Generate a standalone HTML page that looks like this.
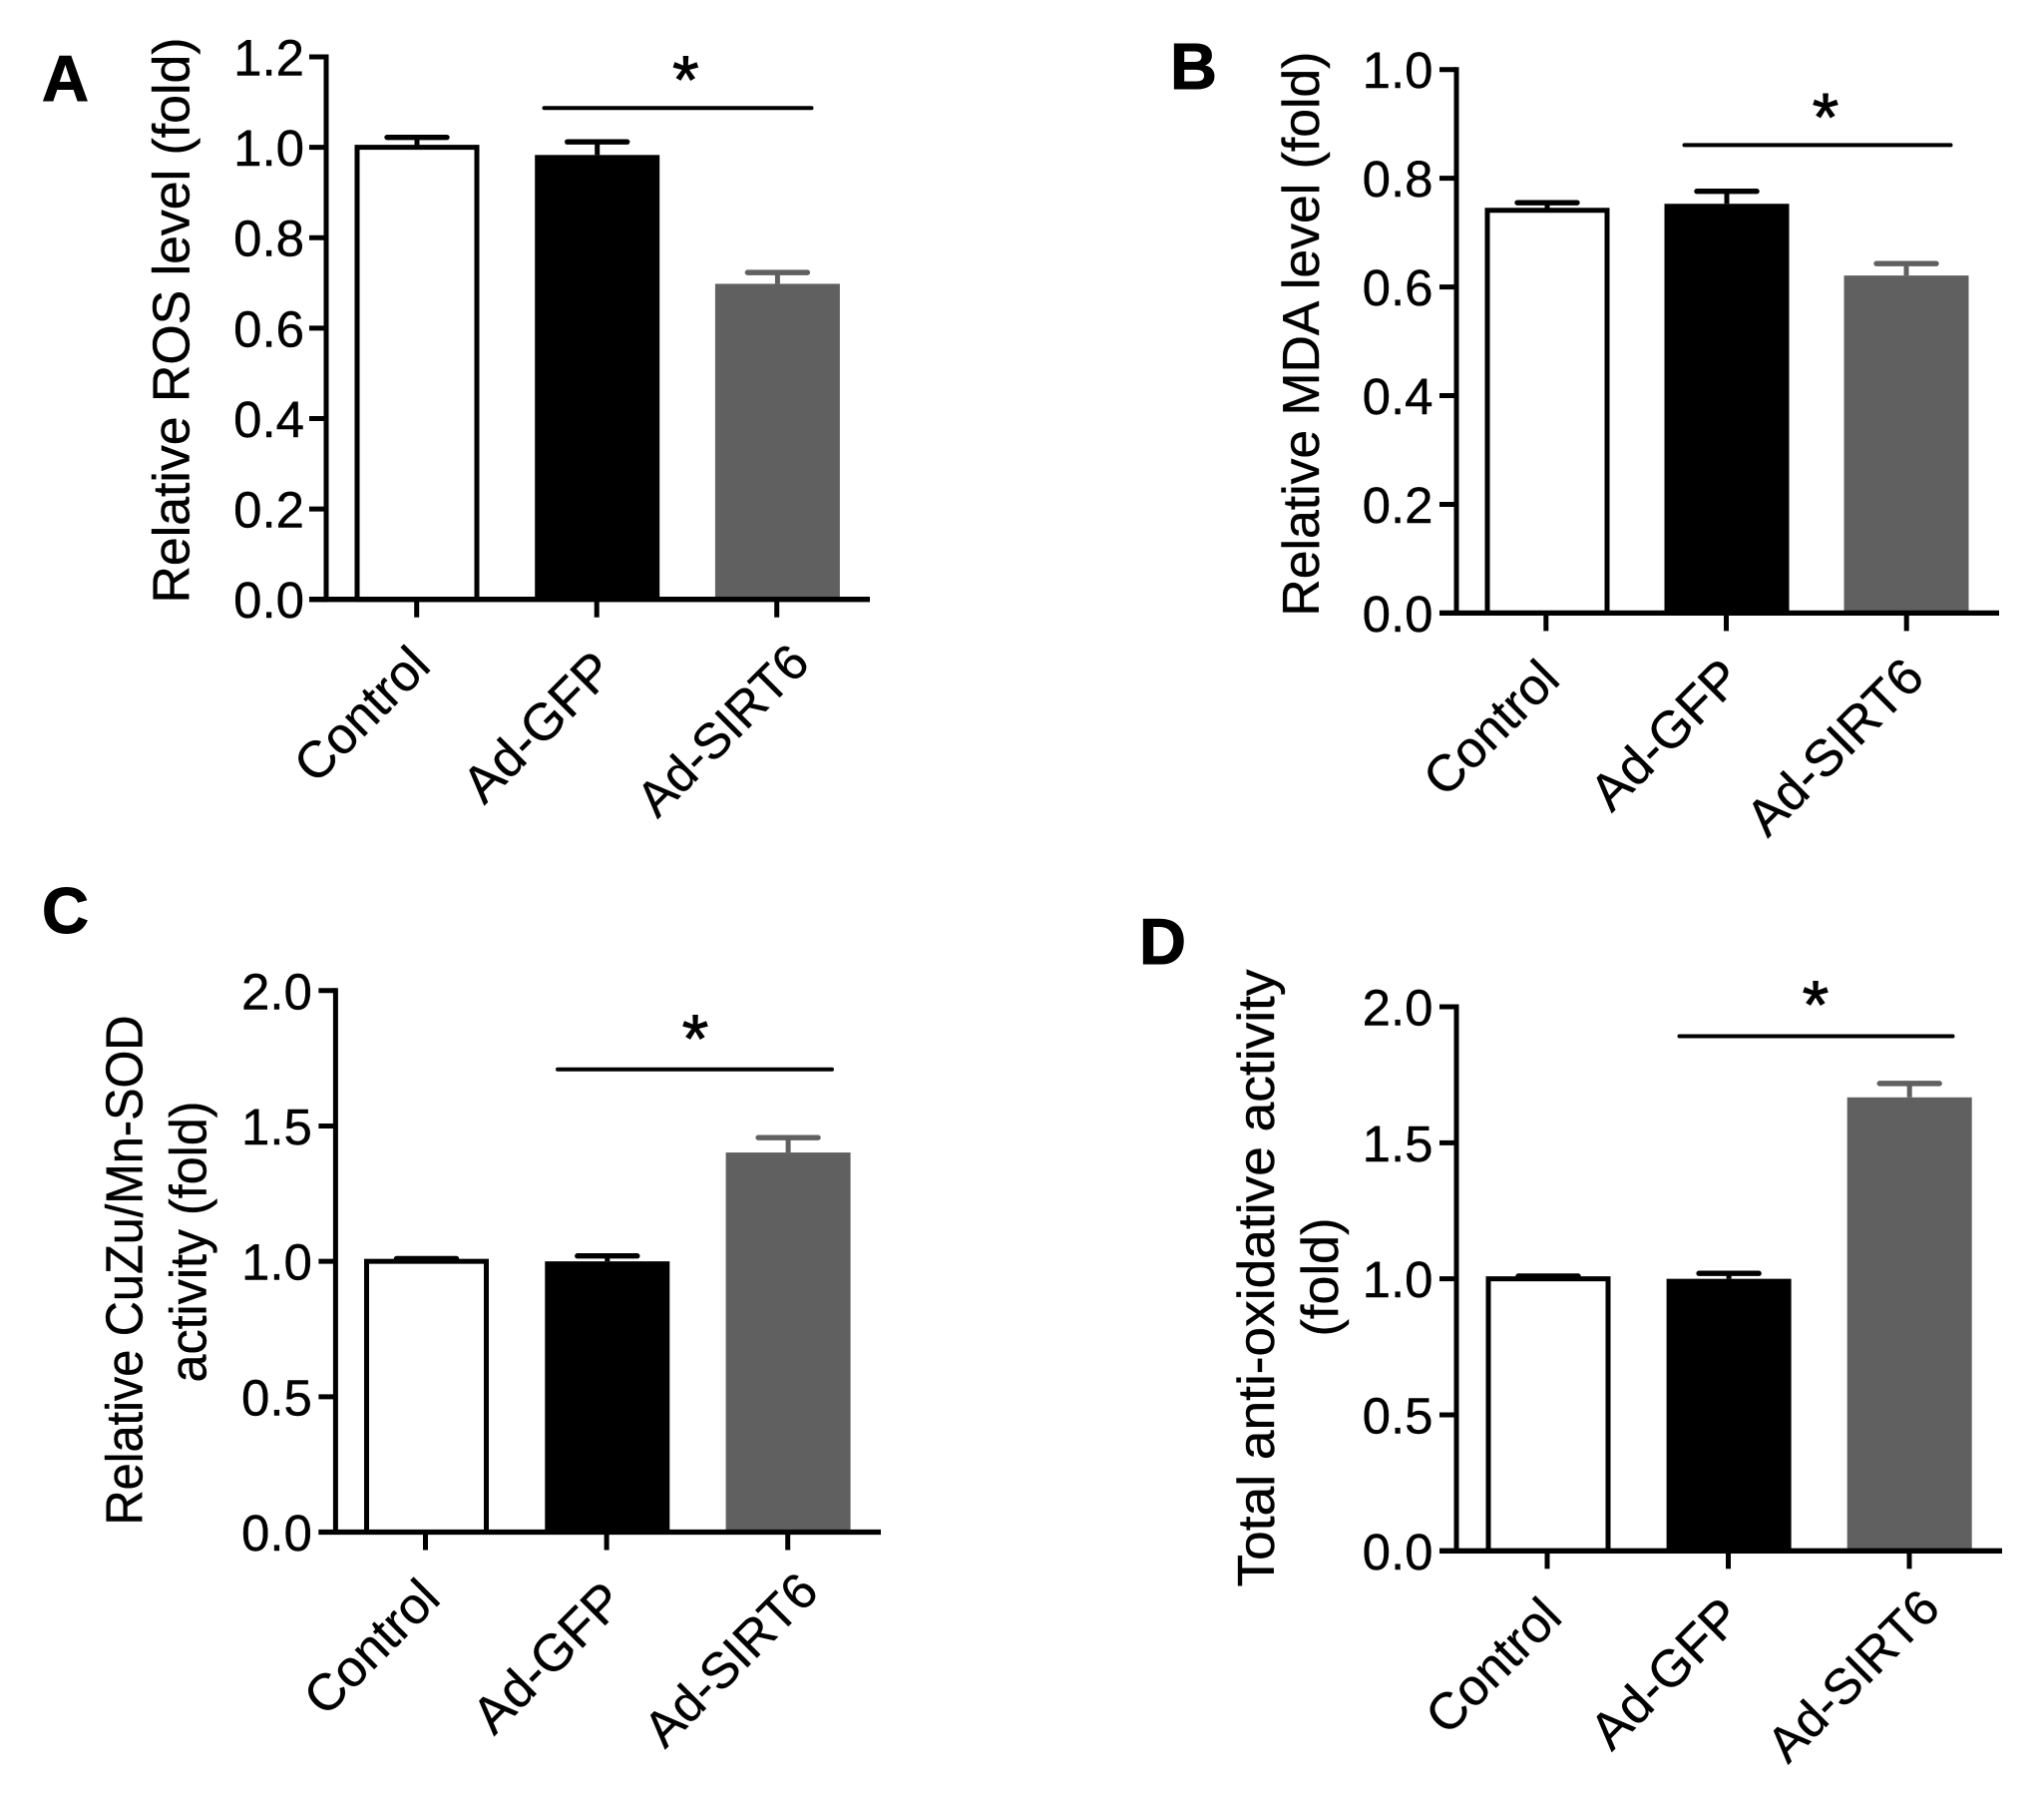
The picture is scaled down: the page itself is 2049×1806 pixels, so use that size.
<!DOCTYPE html>
<html lang="en">
<head>
<meta charset="utf-8">
<title>Relative oxidative stress and antioxidant activity by treatment</title>
<style>
html,body{margin:0;padding:0;background:#fff;width:2049px;height:1806px;overflow:hidden}
svg{display:block;font-family:"Liberation Sans",Arial,sans-serif}
</style>
</head>
<body>
<svg id="figure" width="2049" height="1806" viewBox="0 0 2049 1806" xmlns="http://www.w3.org/2000/svg"></svg>
<script>
const categories = ['Control', 'Ad-GFP', 'Ad-SIRT6'];

const panelAValues = [1.0, 0.983, 0.698];
const panelAUpper = [1.022, 1.012, 0.723];
const panelATicks = ['0.0', '0.2', '0.4', '0.6', '0.8', '1.0', '1.2'];

const panelBValues = [0.741, 0.753, 0.621];
const panelBUpper = [0.755, 0.776, 0.643];
const panelBTicks = ['0.0', '0.2', '0.4', '0.6', '0.8', '1.0'];

const panelCValues = [1.0, 1.0, 1.402];
const panelCUpper = [1.01, 1.02, 1.457];
const panelCTicks = ['0.0', '0.5', '1.0', '1.5', '2.0'];

const panelDValues = [1.0, 1.0, 1.667];
const panelDUpper = [1.01, 1.02, 1.718];
const panelDTicks = ['0.0', '0.5', '1.0', '1.5', '2.0'];

const NS = 'http://www.w3.org/2000/svg';
const figure = document.getElementById('figure');
const barFills = ['#ffffff', '#000000', '#606060'];
const barInks = ['#000000', '#000000', '#606060'];

function make(parent, tag, props, content) {
  const node = document.createElementNS(NS, tag);
  for (const key in props) node.setAttribute(key, props[key]);
  if (content !== undefined) node.textContent = content;
  parent.appendChild(node);
  return node;
}

function drawPanel(p) {
  const domainMax = parseFloat(p.ticks[p.ticks.length - 1]);
  const yScale = v => p.y0 - (v / domainMax) * (p.y0 - p.yTop);
  const xScale = i => p.xFirst + i * p.xStep;
  const key = p.id;

  const g = make(figure, 'g', {});
  
  

  const letter = make(g, 'text', {x: p.letterX, y: p.letterY, 'font-size': 65, 'font-weight': 700, fill: '#000', stroke: '#000', 'stroke-width': 1}, p.letter);
  
  

  p.titles.forEach((t, i) => {
    const title = make(g, 'text', {
      transform: 'translate(' + t.x + ',' + t.y + ') rotate(-90)',
      'text-anchor': 'middle', 'font-size': 52, fill: '#000', stroke: '#000', 'stroke-width': 0.4,
      textLength: t.length, lengthAdjust: 'spacingAndGlyphs'
    }, t.text);
    
    
  });

  categories.forEach((name, i) => {
    const w = p.barWidth;
    const left = p.barLeft + i * p.barStep;
    const top = yScale(p.values[i]);
    const upper = yScale(p.upper[i]);
    const mid = left + w / 2;

    const stem = make(g, 'line', {x1: mid, x2: mid, y1: upper, y2: top, stroke: barInks[i], 'stroke-width': 5});
    
    

    const cap = make(g, 'line', {x1: mid - 30, x2: mid + 30, y1: upper, y2: upper, stroke: barInks[i], 'stroke-width': 5.4, 'stroke-linecap': 'round'});
    
    

    const inset = i === 0 ? 2.5 : 0;
    const bar = make(g, 'rect', {
      x: left + inset, y: top, width: w - inset * 2, height: p.y0 - top,
      fill: barFills[i], stroke: i === 0 ? '#000' : 'none', 'stroke-width': i === 0 ? 5 : 0
    });
    
    
  });

  p.ticks.forEach(label => {
    const y = yScale(parseFloat(label));
    const tick = make(g, 'line', {x1: p.yAxisX - 17, x2: p.yAxisX, y1: y, y2: y, stroke: '#000', 'stroke-width': 5});
    
    

    const text = make(g, 'text', {x: p.yAxisX - p.tickGap, y: y + 18.5, 'text-anchor': 'end', 'font-size': 51, fill: '#000', stroke: '#000', 'stroke-width': 0.4}, label);
    
    
  });

  const yAxis = make(g, 'line', {x1: p.yAxisX, x2: p.yAxisX, y1: p.yTop - 2.5, y2: p.y0 + 2.5, stroke: '#000', 'stroke-width': 5});
  
  

  const xAxis = make(g, 'line', {x1: p.yAxisX - 17, x2: p.xAxisEnd, y1: p.y0, y2: p.y0, stroke: '#000', 'stroke-width': 5.3});
  
  

  categories.forEach((name, i) => {
    const x = xScale(i);
    const tick = make(g, 'line', {x1: x, x2: x, y1: p.y0, y2: p.y0 + 18, stroke: '#000', 'stroke-width': 5});
    
    

    const nudge = p.labelNudge[i];
    const label = make(g, 'text', {
      transform: 'translate(' + (x + nudge[0]) + ',' + (p.y0 + nudge[1]) + ') rotate(-45)',
      'text-anchor': 'end', 'font-size': nudge[2], fill: '#000', stroke: '#000', 'stroke-width': 0.4
    }, name);
    
    
  });

  const sig = make(g, 'line', {x1: p.sigLeft, x2: p.sigRight, y1: p.sigY, y2: p.sigY, stroke: '#000', 'stroke-width': 4, 'stroke-linecap': 'round'});
  
  

  const star = make(g, 'text', {x: p.starX, y: p.starY + p.starLift, 'text-anchor': 'middle', 'font-size': 68, fill: '#000', stroke: '#000', 'stroke-width': 1}, '*');
  
  
}

drawPanel({
  id: 'a', letter: 'A', letterX: 42, letterY: 101,
  values: panelAValues, upper: panelAUpper, ticks: panelATicks,
  yAxisX: 327, yTop: 57, y0: 600.7, xAxisEnd: 872, tickGap: 22,
  xFirst: 417.7, xStep: 180.5,
  barLeft: 355.5, barStep: 180.7, barWidth: 125,
  sigLeft: 545.5, sigRight: 813.5, sigY: 108.3, starX: 687.4, starY: 71, starLift: 32,
  labelNudge: [[16, 69, 51.5], [20, 74, 52], [35, 66, 50]],
  titles: [{text: 'Relative ROS level (fold)', x: 189.5, y: 321, length: 567}]
});

drawPanel({
  id: 'b', letter: 'B', letterX: 1173, letterY: 89,
  values: panelBValues, upper: panelBUpper, ticks: panelBTicks,
  yAxisX: 1460, yTop: 69.7, y0: 614.4, xAxisEnd: 2004, tickGap: 23.5,
  xFirst: 1549.8, xStep: 180.7,
  barLeft: 1488.5, barStep: 180, barWidth: 125,
  sigLeft: 1688.5, sigRight: 1955.5, sigY: 145.4, starX: 1830, starY: 108.6, starLift: 32,
  labelNudge: [[16, 69, 51.5], [18, 68, 52], [20, 67, 51.5]],
  titles: [{text: 'Relative MDA level (fold)', x: 1322, y: 334.6, length: 566}]
});

drawPanel({
  id: 'c', letter: 'C', letterX: 42, letterY: 935,
  values: panelCValues, upper: panelCUpper, ticks: panelCTicks,
  yAxisX: 336.4, yTop: 992.8, y0: 1535.5, xAxisEnd: 883, tickGap: 23.5,
  xFirst: 426.5, xStep: 181.6,
  barLeft: 365, barStep: 181.3, barWidth: 125,
  sigLeft: 559, sigRight: 834, sigY: 1071.7, starX: 697, starY: 1032, starLift: 32,
  labelNudge: [[17, 69, 51.5], [20, 72, 52], [33, 62, 50.5]],
  titles: [
    {text: 'Relative CuZu/Mn-SOD', x: 142.4, y: 1273, length: 511},
    {text: 'activity (fold)', x: 206.4, y: 1244.5, length: 282}
  ]
});

drawPanel({
  id: 'd', letter: 'D', letterX: 1142, letterY: 966,
  values: panelDValues, upper: panelDUpper, ticks: panelDTicks,
  yAxisX: 1460, yTop: 1009, y0: 1554.3, xAxisEnd: 2007, tickGap: 23.5,
  xFirst: 1551, xStep: 181.5,
  barLeft: 1489.5, barStep: 181.1, barWidth: 125,
  sigLeft: 1683.5, sigRight: 1957.5, sigY: 1038.5, starX: 1820, starY: 1000, starLift: 30,
  labelNudge: [[17, 69, 51.5], [16, 69, 52], [33, 60, 50]],
  titles: [
    {text: 'Total anti-oxidative activity', x: 1276.8, y: 1281, length: 619},
    {text: '(fold)', x: 1341, y: 1280, length: 119}
  ]
});
</script>
</body>
</html>
